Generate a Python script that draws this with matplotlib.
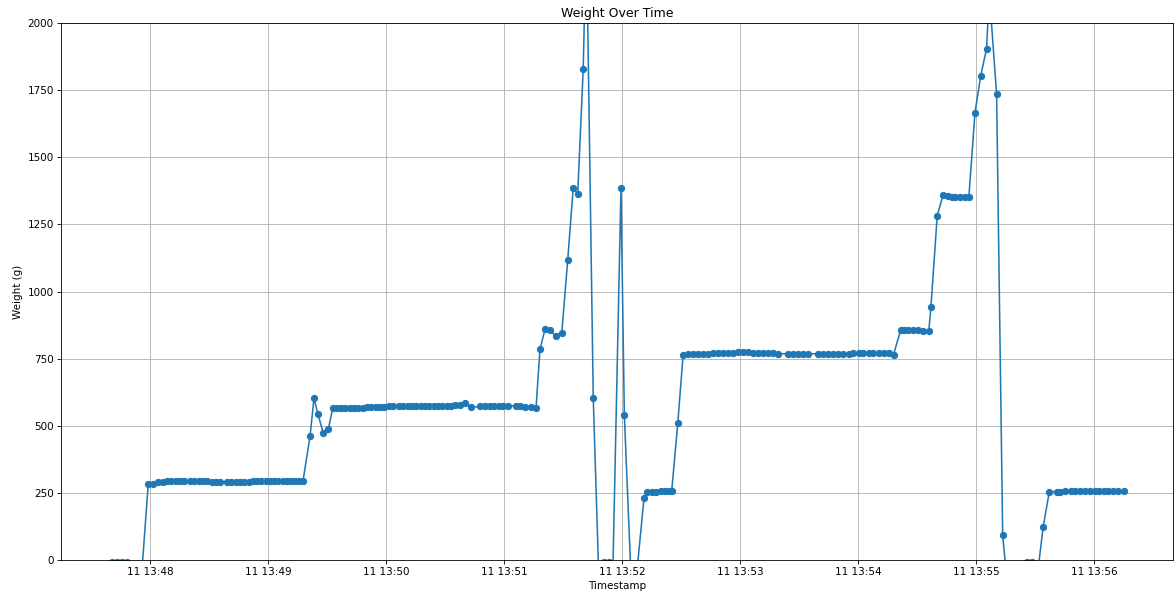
import pandas as pd
import matplotlib
matplotlib.use("Agg")
import matplotlib.pyplot as plt

# seconds after 13:47:00 on the 11th
seconds = [
    40.7, 43.2, 45.8, 48.3, 52.1, 55.9, 59.1, 61.7,
    64.1, 66.4, 68.6, 70.7, 73.0, 75.3, 77.3, 80.3, 82.6, 84.9, 86.9, 89.2,
    91.5, 93.6, 95.8, 99.2, 101.2, 103.5, 105.8, 107.8, 110.1, 112.4, 114.4,
    116.7, 119.0, 121.0, 123.3, 125.3, 127.6, 129.7, 131.7, 133.7, 135.8, 137.8,
    141.4, 143.4, 145.4, 148.1, 150.7, 152.9,
    155.1, 157.1, 159.4, 161.7, 163.7, 166.0, 168.3, 170.3, 172.6, 174.9, 177.0,
    179.2, 181.5, 183.6, 186.6, 188.9, 191.2, 193.2, 195.5, 197.8, 199.8, 202.1,
    204.4, 206.4, 208.7, 211.0, 213.1, 215.3, 217.6, 220.2, 223.2, 227.8, 230.3,
    232.9, 234.9, 237.6, 239.7, 242.2, 246.1, 248.1, 250.7, 253.6, 256.3,
    258.3, 260.9, 263.4, 266.3, 269.4, 272.4, 275.2, 277.5, 280.3, 281.9, 285.4,
    288.8, 291.1, 293.4, 295.4, 299.5, 301.2, 305.1, 307.9, 311.2, 312.6,
    315.1, 317.3, 319.6, 321.9, 323.7, 325.3, 328.4, 331.1,
    333.6, 336.2, 338.7, 341.3, 343.8, 346.4, 348.9, 351.5, 354.0, 356.6, 359.1,
    361.7, 364.2, 366.8, 369.3, 371.9, 374.4, 377.0, 379.5,
    384.6, 387.1, 389.7, 392.2, 394.8,
    399.9, 402.4, 405.0, 407.5, 410.1, 412.6, 415.2, 417.7, 420.3, 422.8, 425.4,
    427.9, 430.5, 433.0, 435.6, 438.1,
    441.7, 443.6, 445.3, 447.8, 450.4, 452.9, 456.0,
    457.1, 460.3, 463.2, 465.8, 467.7, 469.4, 471.9, 474.4, 476.4,
    479.5, 482.4, 485.4, 486.8, 490.5, 493.6, 495.8, 498.3, 500.9, 503.4,
    505.9, 508.5, 511.5, 514.2, 517.3,
    521.3, 522.7, 525.3, 528.2, 530.4, 532.9, 535.4, 538.0, 540.5, 542.7, 545.1,
    547.3, 549.9, 552.4, 555.3,
]

weights = [
    -6, -6, -6, -6, -40, -40, 282, 283,
    290, 292, 293, 294, 294, 294, 293, 293, 294, 294, 294, 293, 292, 291, 291,
    290, 290, 291, 291, 291, 292, 293, 294, 294, 294, 294, 294, 294, 293, 293,
    293, 294, 294, 294,
    462, 602, 543, 474, 488, 565,
    566, 566, 566, 567, 567, 567, 567, 568, 569, 569, 570, 571, 572, 572, 572,
    572, 573, 573, 573, 573, 573, 573, 573, 573, 572, 573, 574, 576, 578, 583,
    568, 572, 572, 572, 573, 574, 574, 574, 574, 573, 571, 570, 565,
    785, 860, 856, 834, 847, 1116, 1384, 1364, 1830, 2350, 603,
    -200, -7, -7, -30, 1384, 541, -150, -20, 230, 252,
    255, 255, 258, 258, 258, 258, 511, 765,
    766, 767, 768, 768, 768, 770, 770, 770, 770, 772, 774, 775, 775, 772, 770,
    770, 770, 770, 768,
    768, 768, 768, 768, 768,
    768, 768, 768, 768, 768, 768, 768, 770, 770, 770, 772, 772, 770, 770, 770, 765,
    856, 856, 856, 856, 855, 853, 852,
    941, 1282, 1358, 1354, 1353, 1353, 1353, 1353, 1353,
    1666, 1802, 1905, 2110, 1735, 92, -80, -150, -150, -80,
    -7, -7, -40, 124, 254,
    255, 255, 256, 256, 257, 257, 257, 257, 257, 257, 257, 257, 257, 257, 257,
]

start = pd.Timestamp("2024-06-11 13:47:00")
timestamps = (start + pd.to_timedelta(seconds, unit="s")).to_pydatetime()

dpi = 75
fig, ax = plt.subplots(figsize=(1174 / dpi, 596 / dpi), dpi=dpi)
ax.plot(timestamps, weights, marker="o")
ax.set_xlim(pd.Timestamp("2024-06-11 13:47:14.75"), pd.Timestamp("2024-06-11 13:56:40.2"))
ax.set_ylim(0, 2000)
ax.set_title("Weight Over Time")
ax.set_xlabel("Timestamp")
ax.set_ylabel("Weight (g)")
ax.grid(True)
fig.subplots_adjust(left=61 / 1174, right=1173 / 1174, bottom=36 / 596, top=573 / 596)
fig.savefig("out.png", dpi=dpi)
